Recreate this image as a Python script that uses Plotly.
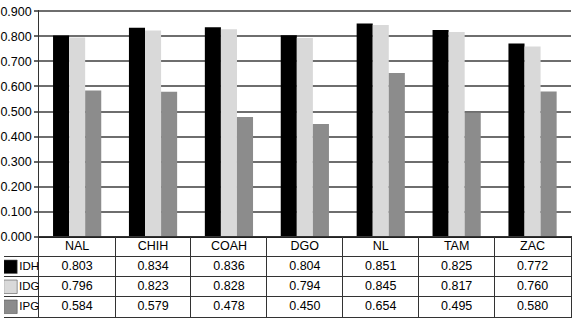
import plotly.graph_objects as go

states = ["NAL", "CHIH", "COAH", "DGO", "NL", "TAM", "ZAC"]
series_names = ["IDH", "IDG", "IPG"]
idh = [0.803, 0.834, 0.836, 0.804, 0.851, 0.825, 0.772]
idg = [0.796, 0.823, 0.828, 0.794, 0.845, 0.817, 0.760]
ipg = [0.584, 0.579, 0.478, 0.450, 0.654, 0.495, 0.580]
colors = ["#000000", "#d9d9d9", "#8c8c8c"]
y_ticks = [0.0, 0.1, 0.2, 0.3, 0.4, 0.5, 0.6, 0.7, 0.8, 0.9]

W, H = 572, 331
FONT = "Liberation Sans, Arial, sans-serif"
FS = 12.5

x0 = 35.5 / W
x1 = 571.5 / W
plot_top = 5.0
plot_bot = 240.5
tab_bot = 323.5

header_key = " "
row_cats = [header_key] + series_names

fig = go.Figure()
values = [idh, idg, ipg]
for name, vals, col in zip(series_names, values, colors):
    fig.add_trace(go.Bar(x=states, y=vals, name=name, marker_color=col,
                         marker_line_width=0, xaxis="x", yaxis="y"))

# header row text
fig.add_trace(go.Scatter(x=states, y=[header_key] * len(states), text=states,
                         mode="text", textfont=dict(family=FONT, size=FS, color="black"),
                         xaxis="x2", yaxis="y2"))
# value rows
for name, vals in zip(series_names, values):
    fig.add_trace(go.Scatter(x=states, y=[name] * len(states),
                             text=[f"{v:.3f}" for v in vals], mode="text",
                             textfont=dict(family=FONT, size=FS, color="black"),
                             xaxis="x2", yaxis="y2"))
# legend column: swatches and labels
fig.add_trace(go.Scatter(x=[6.5] * 3, y=series_names, mode="markers",
                         marker=dict(symbol="square", size=13.5, color=colors,
                                     line=dict(width=0.6, color="#555")),
                         xaxis="x3", yaxis="y2"))
fig.add_trace(go.Scatter(x=[25.5] * 3, y=series_names, text=series_names, mode="text",
                         textfont=dict(family=FONT, size=11.5, color="black"),
                         xaxis="x3", yaxis="y2"))

fig.update_layout(
    width=W, height=H,
    margin=dict(l=0, r=0, t=0, b=0),
    paper_bgcolor="white", plot_bgcolor="white",
    showlegend=False, hovermode=False,
    barmode="group", bargap=0.365, bargroupgap=0,
    font=dict(family=FONT, size=FS, color="black"),
    xaxis=dict(domain=[x0, x1], type="category", categoryorder="array",
               categoryarray=states, range=[-0.5, len(states) - 0.5],
               showticklabels=False, ticks="", showgrid=False,
               showline=True, linecolor="#222", linewidth=1, anchor="y"),
    yaxis=dict(domain=[(H - plot_bot) / H, (H - plot_top) / H],
               range=[0, 0.906], tickvals=y_ticks,
               ticktext=[f"{v:.3f}" for v in y_ticks],
               ticklabeloverflow="allow",
               ticks="outside", ticklen=4, tickcolor="#666", tickwidth=1.5,
               showgrid=True, gridcolor="#6e6e6e", gridwidth=1.6,
               zeroline=False, showline=True, linecolor="#333", linewidth=1,
               tickfont=dict(family=FONT, size=FS, color="black"), anchor="x"),
    xaxis2=dict(domain=[x0, x1], type="category", categoryorder="array",
                categoryarray=states, range=[-0.5, len(states) - 0.5],
                showticklabels=False, ticks="", tickson="boundaries",
                showgrid=True, gridcolor="#333", gridwidth=1,
                showline=True, mirror=True, linecolor="#333", linewidth=1,
                zeroline=False, anchor="y2"),
    yaxis2=dict(domain=[(H - tab_bot) / H, (H - plot_bot) / H], type="category",
                categoryorder="array", categoryarray=row_cats,
                range=[len(row_cats) - 0.5, -0.5],
                showticklabels=False, ticks="", tickson="boundaries",
                showgrid=True, gridcolor="#333", gridwidth=1,
                showline=True, mirror=True, linecolor="#333", linewidth=1,
                zeroline=False, anchor="x2"),
    xaxis3=dict(domain=[0, x0], range=[0, 35.5], showticklabels=False,
                ticks="", showgrid=False, zeroline=False,
                showline=True, linecolor="#333", linewidth=1, anchor="y2"),
)

fig.write_html("out.html")
